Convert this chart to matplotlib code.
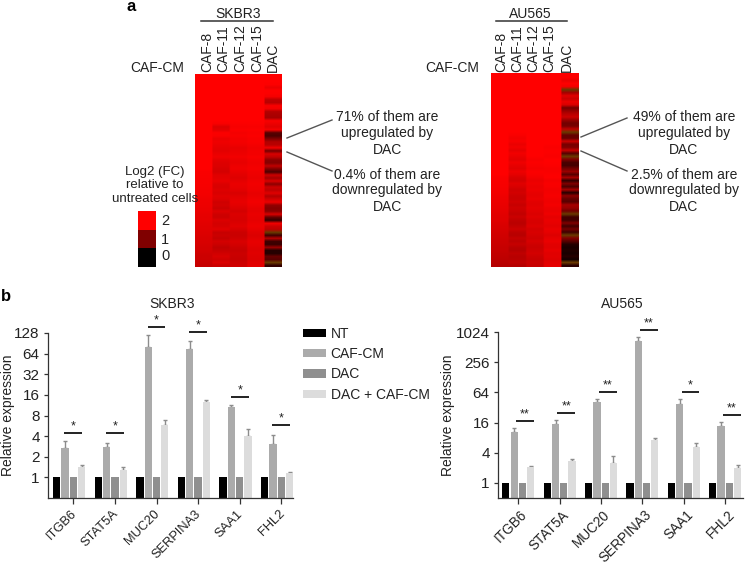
import numpy as np
import matplotlib
matplotlib.use('Agg')
import matplotlib.pyplot as plt
from matplotlib.colors import LinearSegmentedColormap
from matplotlib.lines import Line2D
from matplotlib.patches import Patch
from matplotlib.transforms import ScaledTranslation

plt.rcParams['font.family'] = ['Liberation Sans', 'DejaVu Sans']

W, H = 747, 566
TEXT = '#222222'

heat_columns = ['CAF-8', 'CAF-11', 'CAF-12', 'CAF-15', 'DAC']

# SKBR3 heatmap, top row first (log2 FC, negative = downregulated)
sk_caf8 = [2.0]*32 + [1.96, 1.96, 1.95, 1.94, 1.94, 1.93, 1.92, 1.92,
                      1.9, 1.88, 1.87, 1.86, 1.85, 1.84, 1.82, 1.8,
                      1.8, 1.78, 1.76, 1.75, 1.74, 1.72, 1.7, 1.7,
                      1.68, 1.66, 1.65, 1.62, 1.6, 1.6, 1.58, 1.55]
sk_caf11 = [2.0]*16 + [1.95, 1.72, 1.78, 1.97, 1.96, 1.84, 1.88, 1.84,
                       1.8, 1.78, 1.84, 1.88, 1.78, 1.74, 1.72, 1.68,
                       1.66, 1.76, 1.78, 1.82, 1.72, 1.7, 1.74, 1.7,
                       1.76, 1.72, 1.62, 1.66, 1.58, 1.72, 1.62, 1.6,
                       1.72, 1.66, 1.68, 1.76, 1.56, 1.6, 1.54, 1.66,
                       1.6, 1.5, 1.56, 1.64, 1.7, 1.62, 1.72, 1.58]
sk_caf12 = [2.0]*16 + [1.97, 1.93, 1.97, 1.92, 1.95, 1.9, 1.92, 1.88,
                       1.82, 1.84, 1.86, 1.9, 1.84, 1.82, 1.86, 1.88,
                       1.82, 1.78, 1.74, 1.8, 1.84, 1.82, 1.78, 1.7,
                       1.76, 1.8, 1.82, 1.78, 1.72, 1.66, 1.72, 1.7,
                       1.68, 1.72, 1.76, 1.68, 1.6, 1.58, 1.62, 1.7,
                       1.66, 1.6, 1.56, 1.6, 1.58, 1.56, 1.6, 1.62]
sk_caf15 = [2.0]*16 + [1.98, 1.94, 1.98, 1.95, 1.97, 1.94, 1.96, 1.92,
                       1.88, 1.9, 1.9, 1.94, 1.9, 1.88, 1.9, 1.92,
                       1.88, 1.86, 1.84, 1.88, 1.9, 1.88, 1.86, 1.82,
                       1.84, 1.88, 1.9, 1.86, 1.82, 1.8, 1.84, 1.82,
                       1.8, 1.84, 1.86, 1.82, 1.76, 1.72, 1.76, 1.82,
                       1.8, 1.76, 1.74, 1.76, 1.74, 1.72, 1.76, 1.78]
sk_dac = [2.0, 2.0, 2.0, 1.98, 1.85, 2.0, 1.98, 1.92,
          1.5, 1.45, 1.95, 1.9, 1.4, 1.35, 1.3, 1.95,
          1.85, 1.75, 1.92, 0.7, 0.6, 1.0, 1.4, 1.45,
          1.9, 0.9, 1.7, 1.5, 1.1, 1.05, 1.5, 1.0,
          0.6, 1.6, 1.3, 1.7, 1.1, 1.6, 1.5, 1.75,
          1.4, 1.65, 1.85, 1.15, 1.05, 1.1, 1.7, 0.8,
          0.4, 1.9, 1.6, 1.5, -1, 0.5, 1.4, 0.5,
          0.45, 1.2, 0.3, 0.3, 0.8, 0.7, -1, 0.4]

# AU565 heatmap
au_caf8 = [2.0]*34 + [1.96, 1.95, 1.94, 1.93, 1.92, 1.9,
                      1.88, 1.86, 1.85, 1.83, 1.82, 1.8, 1.78, 1.76,
                      1.75, 1.72, 1.7, 1.68, 1.66, 1.64, 1.62, 1.6,
                      1.58, 1.56, 1.55, 1.52, 1.5, 1.48, 1.46, 1.42]
au_caf11 = [2.0]*20 + [1.96, 1.9, 1.94, 1.84, 1.9, 1.8, 1.9, 1.84,
                       1.78, 1.88, 1.82, 1.76, 1.86, 1.8, 1.7, 1.66,
                       1.76, 1.7, 1.62, 1.66, 1.6, 1.58, 1.64, 1.56,
                       1.62, 1.58, 1.52, 1.6, 1.5, 1.46, 1.52, 1.6,
                       1.48, 1.44, 1.54, 1.48, 1.56, 1.46, 1.42, 1.5,
                       1.44, 1.46, 1.5, 1.42]
au_caf12 = [2.0]*28 + [1.94, 1.98, 1.96, 1.92, 1.97, 1.95, 1.9, 1.84,
                       1.88, 1.84, 1.86, 1.82, 1.8, 1.84, 1.78, 1.76,
                       1.8, 1.76, 1.72, 1.76, 1.7, 1.68, 1.74, 1.66,
                       1.7, 1.66, 1.62, 1.68, 1.62, 1.58, 1.62, 1.66,
                       1.6, 1.56, 1.6, 1.56]
au_caf15 = [2.0]*24 + [1.96, 1.98, 1.98, 1.96, 2.0, 2.0, 1.98, 1.94,
                       1.96, 1.98, 1.98, 1.92, 1.96, 1.94, 1.9, 1.92,
                       1.94, 1.9, 1.88, 1.92, 1.86, 1.84, 1.88, 1.8,
                       1.84, 1.82, 1.78, 1.84, 1.8, 1.74, 1.8, 1.84,
                       1.78, 1.76, 1.82, 1.76, 1.78, 1.74, 1.78, 1.8]
au_dac = [1.98, 1.98, 1.85, 2.0, 1.9, -1, 1.3, 1.75,
          1.6, 1.85, 1.7, 0.9, 1.2, 1.45, 1.6, 1.2,
          0.9, 0.95, 1.5, -1, 0.8, 0.8, 1.6, 0.95,
          1.0, 1.55, 0.7, -1, 1.0, 0.6, 0.55, 0.9,
          1.2, 0.7, 1.3, 0.4, 1.0, 0.6, 1.3, 0.3,
          1.1, 0.8, 0.7, 1.3, 1.2, 0.9, -1, 0.5,
          0.5, 1.0, 0.5, 0.9, 0.5, -1, 1.0, 0.7,
          0.3, 0.2, 0.25, 0.2, 0.3, 0.15, -1, 0.35]

genes = ['ITGB6', 'STAT5A', 'MUC20', 'SERPINA3', 'SAA1', 'FHL2']
treatments = ['NT', 'CAF-CM', 'DAC', 'DAC + CAF-CM']

sk_nt = [1, 1, 1, 1, 1, 1]
sk_caf = [2.7, 2.8, 81, 74, 10.6, 3.1]
sk_dac_bar = [1, 1, 1, 1, 1, 1]
sk_combo = [1.4, 1.28, 5.9, 12.6, 3.96, 1.14]
sk_caf_err = [0.7, 0.4, 37, 23, 0.9, 1.1]
sk_combo_err = [0.1, 0.15, 0.9, 0.7, 1.04, 0.04]
sk_sig_y = [4.47, 4.47, 158, 132, 15, 5.8]
sk_sig = ['*', '*', '*', '*', '*', '*']

au_nt = [1, 1, 1, 1, 1, 1]
au_caf = [10.4, 15, 40.5, 666, 38, 13.9]
au_dac_bar = [1, 1, 1, 1, 1, 1]
au_combo = [2.08, 2.7, 2.54, 7.1, 5.2, 2.02]
au_caf_err = [2.1, 3, 6.1, 134, 9, 2.3]
au_combo_err = [0.07, 0.3, 0.86, 0.9, 1.1, 0.28]
au_sig_y = [16.9, 25, 64, 1140, 64, 22.4]
au_sig = ['**', '**', '**', '**', '*', '**']

bar_colors = ['#000000', '#ababab', '#8f8f8f', '#dcdcdc']

heat_cmap = LinearSegmentedColormap.from_list('fc', ['#000000', '#ff0000'])
heat_cmap.set_under('#6a3a00')

fig = plt.figure(figsize=(W/100, H/100), dpi=100)


def px_axes(left, top, right, bottom):
    # axes from picture pixels
    return fig.add_axes([left/W, 1-bottom/H, (right-left)/W, (bottom-top)/H])


def px_text(x, y, s, **kw):
    kw.setdefault('fontsize', 10)
    kw.setdefault('color', TEXT)
    kw.setdefault('ha', 'center')
    kw.setdefault('va', 'center')
    fig.text(x/W, 1-y/H, s, **kw)


def px_line(x0, y0, x1, y1, color='#444444', lw=1.0):
    fig.add_artist(Line2D([x0/W, x1/W], [1-y0/H, 1-y1/H], color=color, lw=lw))


def plot_heatmap(box, columns, name, name_x, head_x, col_x, cafcm_x):
    ax = px_axes(*box)
    # columns repeated so the smoothing only softens the row edges
    grid = np.repeat(np.array(columns).T, 10, axis=1)
    ax.imshow(grid, cmap=heat_cmap, vmin=0, vmax=2, aspect='auto',
              interpolation='bilinear', interpolation_stage='rgba')
    ax.axis('off')
    px_text(name_x, 13.5, name, fontsize=10)
    px_line(head_x[0], 20.5, head_x[1], 20.5, color='#333333', lw=1.1)
    for x, label in zip(col_x, heat_columns):
        px_text(x, 72, label, rotation=90, va='bottom')
    px_text(cafcm_x, 68, 'CAF-CM')


def plot_bars(box, xlim, ylim, ticks, nt, caf, dac, combo, caf_err, combo_err,
              sig_y, sig, bar_pos, sig_shift, label_shift, label_size, title, title_x, ylab_x):
    ax = px_axes(*box)
    ax.set_yscale('log', base=2)
    x = np.arange(len(genes))
    width = 0.175
    step = 0.2
    for pos, vals, col in zip(bar_pos, [nt, caf, dac, combo], bar_colors):
        ax.bar(x + pos*step, np.array(vals) - ylim[0], width, bottom=ylim[0], color=col, zorder=2)
    for pos, vals, err in [(bar_pos[1], caf, caf_err), (bar_pos[3], combo, combo_err)]:
        ax.errorbar(x + pos*step, vals, yerr=[np.zeros(len(err)), err], fmt='none',
                    ecolor='#8c8c8c', elinewidth=1, capsize=1.6, capthick=1, zorder=1)
    for i in range(len(genes)):
        ax.plot([i+sig_shift-0.215, i+sig_shift+0.215], [sig_y[i], sig_y[i]], color='#222222',
                lw=1.4, clip_on=False, solid_capstyle='butt')
        ax.annotate(sig[i], (i+sig_shift, sig_y[i]), xytext=(0, 0.5), textcoords='offset points',
                    ha='center', va='bottom', fontsize=9, color=TEXT, annotation_clip=False)
    ax.set_xlim(*xlim)
    ax.set_ylim(*ylim)
    ax.set_yticks(ticks)
    ax.set_yticklabels([str(t) for t in ticks])
    ax.minorticks_off()
    ax.set_xticks(x)
    ax.set_xticklabels(genes, rotation=45, ha='right', rotation_mode='anchor')
    ax.tick_params(axis='y', labelsize=11, length=3, width=0.9, color='#333333',
                   labelcolor=TEXT, pad=3)
    ax.tick_params(axis='x', labelsize=label_size, length=4, width=0.9, color='#333333',
                   labelcolor=TEXT, pad=3)
    shift = ScaledTranslation(label_shift/100, 0, fig.dpi_scale_trans)
    for lab in ax.get_xticklabels():
        lab.set_transform(lab.get_transform() + shift)
    for side in ['top', 'right']:
        ax.spines[side].set_visible(False)
    for side in ['left', 'bottom']:
        ax.spines[side].set_linewidth(0.9)
        ax.spines[side].set_color('#333333')
    px_text(title_x, 304, title)
    px_text(ylab_x, 415, 'Relative expression', rotation=90, fontsize=10)
    return ax


# panel a
plot_heatmap((195, 74, 282, 267), [sk_caf8, sk_caf11, sk_caf12, sk_caf15, sk_dac],
             'SKBR3', 238, (201, 273), [207, 223.5, 240, 257, 273], 157)
plot_heatmap((491, 73, 578, 267), [au_caf8, au_caf11, au_caf12, au_caf15, au_dac],
             'AU565', 530, (496, 567), [501, 517, 533, 549, 567], 452)

for x0, x1, y_up0, y_up1, y_dn0, y_dn1 in [(287, 332, 138, 120, 152, 171),
                                            (581, 627, 137, 118, 151, 171)]:
    px_line(x0, y_up0, x1, y_up1, color='#555555')
    px_line(x0, y_dn0, x1, y_dn1, color='#555555')

for cx, up_pct, dn_pct in [(387, '71%', '0.4%'), (684, '49%', '2.5%')]:
    px_text(cx, 117, up_pct + ' of them are')
    px_text(cx, 132.5, 'upregulated by')
    px_text(cx, 149.5, 'DAC')
    px_text(cx, 175, dn_pct + ' of them are')
    px_text(cx, 190, 'downregulated by')
    px_text(cx, 207, 'DAC')

px_text(155, 172, 'Log2 (FC)', fontsize=9.5)
px_text(155, 185, 'relative to', fontsize=9.5)
px_text(155, 199, 'untreated cells', fontsize=9.5)

scale_ax = px_axes(138, 211, 156, 267)
scale_ax.imshow([[2], [1], [0]], cmap=heat_cmap, vmin=0, vmax=2, aspect='auto')
scale_ax.axis('off')
for y, label in [(221, '2'), (240, '1'), (256, '0')]:
    px_text(165, y, label, fontsize=10.5)

px_text(131, 6.5, 'a', fontsize=12, fontweight='bold', color='black')
px_text(6, 296, 'b', fontsize=12, fontweight='bold', color='black')

# panel b
plot_bars((48, 333, 293, 498), (-0.608, 5.28), (0.5, 128), [1, 2, 4, 8, 16, 32, 64, 128],
          sk_nt, sk_caf, sk_dac_bar, sk_combo, sk_caf_err, sk_combo_err, sk_sig_y, sk_sig,
          [-2, -1, 0, 1], 0.0, -3, 9.3, 'SKBR3', 172, 8)
plot_bars((498, 332, 743, 498), (-0.49, 5.43), (0.5, 1024), [1, 4, 16, 64, 256, 1024],
          au_nt, au_caf, au_dac_bar, au_combo, au_caf_err, au_combo_err, au_sig_y, au_sig,
          [-1.5, -0.5, 0.5, 1.5], 0.16, 2, 9.8, 'AU565', 622, 448)

handles = [Patch(facecolor=c, label=t) for c, t in zip(bar_colors, treatments)]
fig.legend(handles=handles, loc='upper left', bbox_to_anchor=(296/W, 1-320/H), frameon=False,
           fontsize=10, labelspacing=0.45, handlelength=1.65, handleheight=0.55,
           handletextpad=0.35, borderpad=0, labelcolor=TEXT)

fig.savefig('out.png', dpi=100)
